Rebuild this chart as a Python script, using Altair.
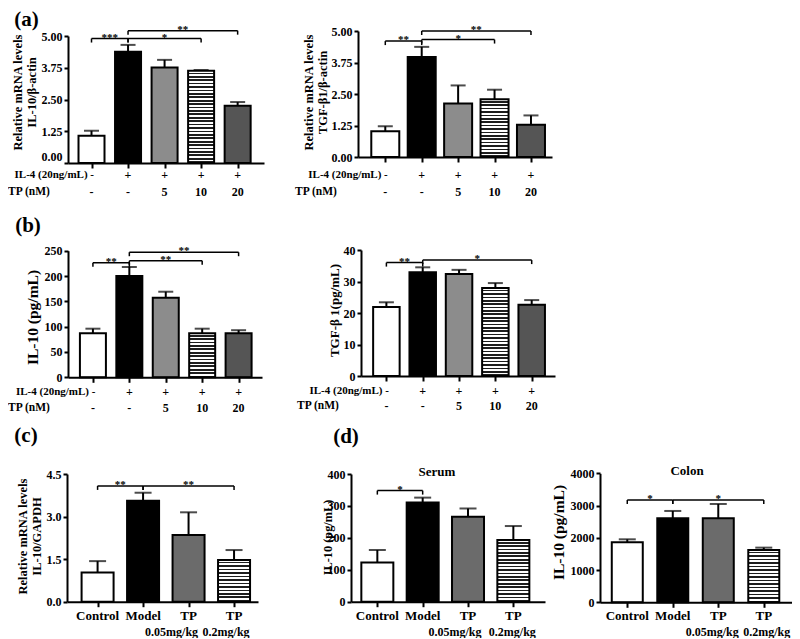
import altair as alt
import pandas as pd

FONT = "Liberation Serif"
W_TOTAL, H_TOTAL = 784, 623

# ---------------- data ----------------
AB_IL4 = ["-", "+", "+", "+", "+"]
AB_TP = ["-", "-", "5", "10", "20"]
AB_HEAD = ["IL-4 (20ng/mL)", "TP (nM)"]
CD_LINE1 = ["Control", "Model", "TP", "TP"]
CD_LINE2 = ["", "", "0.05mg/kg", "0.2mg/kg"]

# (a) left: IL-10/β-actin
A1_VAL = [1.07, 4.38, 3.76, 3.63, 2.25]
A1_ERR = [0.20, 0.27, 0.30, 0.03, 0.15]
A1_BR = ([0, 1, 1], [1, 3, 4], [4.90, 4.90, 5.21], ["***", "*", "**"])
A1_TICKS = [0, 1.25, 2.5, 3.75, 5]

# (a) right: TGF-β1/β-actin
A2_VAL = [1.02, 3.97, 2.12, 2.29, 1.28]
A2_ERR = [0.20, 0.40, 0.72, 0.38, 0.37]
A2_BR = ([0, 1, 1], [1, 3, 4], [4.60, 4.66, 5.00], ["**", "*", "**"])

# (b) left: IL-10 (pg/mL)
B1_VAL = [87, 200, 157, 87, 87]
B1_ERR = [9, 18, 12, 9, 6]
B1_BR = ([0, 1, 1], [1, 3, 4], [226, 230, 247], ["**", "**", "**"])
B1_TICKS = [0, 50, 100, 150, 200, 250]

# (b) right: TGF-β 1 (pg/mL)
B2_VAL = [21.9, 32.9, 32.4, 27.9, 22.6]
B2_ERR = [1.5, 1.6, 1.3, 1.6, 1.5]
B2_BR = ([0, 1], [1, 4], [36.0, 36.8], ["**", "*"])
B2_TICKS = [0, 10, 20, 30, 40]

# (c) IL-10/GAPDH
C_VAL = [1.03, 3.56, 2.35, 1.47]
C_ERR = [0.40, 0.28, 0.80, 0.35]
C_BR = ([0, 1], [1, 3], [4.08, 4.08], ["**", "**"])
C_TICKS = [0, 1.5, 3.0, 4.5]

# (d) Serum
S_VAL = [123, 311, 266, 193]
S_ERR = [39, 15, 26, 44]
S_BR = ([0], [1], [348], ["*"])
S_TICKS = [0, 100, 200, 300, 400]

# (d) Colon
K_VAL = [1860, 2605, 2605, 1623]
K_ERR = [93, 227, 444, 72]
K_BR = ([0, 1], [1, 3], [3173, 3173], ["*", "*"])
K_TICKS = [0, 1000, 2000, 3000, 4000]

# ---------------- layout / style ----------------
GEOM = {
    "A1": dict(x0=60, W=196, step=38.5, first=19.5, bw=26, yb=155, yt=28, tx=-43.5, ty=84, tfs=12.5, cap=15, zb=True),
    "A2": dict(x0=350, W=194, step=38.4, first=23.5, bw=28, yb=149, yt=23, tx=-42.5, ty=84, tfs=12.5, cap=15),
    "B1": dict(x0=60, W=194, step=38.4, first=21, bw=26, yb=369.3, yt=242.7, tx=-28, ty=309, tfs=15.5, cap=15),
    "B2": dict(x0=353, W=194, step=38.3, first=21.5, bw=26.5, yb=368, yt=242, tx=-20, ty=302, tfs=13, cap=15),
    "C": dict(x0=59, W=191, step=48, first=27, bw=32, yb=593.7, yt=466, tx=-37.5, ty=528, tfs=12.5, cap=17),
    "S": dict(x0=343, W=194, step=47.8, first=22.5, bw=32, yb=593.7, yt=466, tx=-17, ty=529, tfs=12.3, cap=17),
    "K": dict(x0=592, W=192, step=48, first=23.5, bw=31, yb=594.3, yt=465.3, tx=-34, ty=524, tfs=15.5, cap=17),
}
AB_FILLS = ["white", "black", "#8c8c8c", "stripes", "#555555"]
CD_FILLS = ["white", "black", "#6b6b6b", "stripes"]
TXT = dict(font=FONT, fontWeight="bold", color="black")


def stripes(val, ymax, g, period=3.4, dark="#1e1e1e"):
    hpx = val / ymax * (g["yb"] - g["yt"])
    n = max(1, round(hpx / period))
    stops = []
    for k in range(n):
        a, m, b = k / n, (k + 0.5) / n, (k + 1) / n
        stops += [alt.GradientStop(offset=a, color="white"), alt.GradientStop(offset=m, color="white"),
                  alt.GradientStop(offset=m, color=dark), alt.GradientStop(offset=b, color=dark)]
    return alt.LinearGradient(gradient="linear", stops=stops, x1=0, x2=0, y1=0, y2=1)


def y_axis(g, ticks, fmt, title):
    extra = {}
    if g.get("zb"):
        extra["labelBaseline"] = {"condition": {"test": "datum.value === 0", "value": "bottom"},
                                  "value": "middle"}
    return alt.Axis(orient="left", offset=-g["x0"], values=ticks, format=fmt, title=title,
                    titleX=g["tx"], titleY=g["ty"], titleFont=FONT, titleFontWeight="bold",
                    titleFontSize=g["tfs"], titleColor="black", titleLineHeight=13.5,
                    titleBaseline="bottom", titleAlign="center", titleAngle=270,
                    labelFont=FONT, labelFontWeight="bold", labelFontSize=12, labelColor="black",
                    labelPadding=2, labelFlush=False, labelOverlap=False,
                    tickSize=4, tickWidth=2, tickColor="black",
                    domainColor="black", domainWidth=2, grid=False, zindex=1, **extra)


def x_axis(g, n):
    return alt.Axis(orient="bottom", offset=g["yb"] - H_TOTAL, values=list(range(n)), labels=False,
                    title=None, tickSize=5, tickWidth=2, tickColor="black",
                    domainColor="black", domainWidth=2, grid=False, zindex=1)


def panel(key, vals, errs, ymax, ticks, fmt, title, fills, br, extra_fn):
    g = GEOM[key]
    n = len(vals)
    xs = alt.Scale(domain=[-g["first"] / g["step"], (g["W"] - g["first"]) / g["step"]],
                   range=[g["x0"], g["x0"] + g["W"]], nice=False, zero=False)
    ys = alt.Scale(domain=[0, ymax], range=[g["yb"], g["yt"]], nice=False, zero=False)
    xa = x_axis(g, n)
    ya = y_axis(g, ticks, fmt, title)
    X = lambda f: alt.X(f, scale=xs, axis=xa)
    Y = lambda f: alt.Y(f, scale=ys, axis=ya)
    df = pd.DataFrame({"i": list(range(n)), "val": vals, "err": errs})
    layers = []
    for i in range(n):
        fill = stripes(vals[i], ymax, g) if fills[i] == "stripes" else fills[i]
        layers.append(
            alt.Chart(df.iloc[[i]]).mark_bar(orient="vertical", width=g["bw"], fill=fill,
                                             stroke="black", strokeWidth=2)
            .encode(x=X("i:Q"), y=Y("val:Q"), y2=alt.datum(0)))
    eb = alt.Chart(df).transform_calculate(top="datum.val + datum.err")
    layers.append(eb.mark_rule(color="black", strokeWidth=2).encode(x=X("i:Q"), y=Y("val:Q"), y2="top:Q"))
    layers.append(eb.mark_tick(orient="horizontal", color="black", size=g["cap"], thickness=2)
                  .encode(x=X("i:Q"), y=Y("top:Q")))
    bdf = pd.DataFrame({"a": br[0], "b": br[1], "y": br[2], "lab": br[3]})
    tick = 4 * ymax / (g["yb"] - g["yt"])
    bb = alt.Chart(bdf).transform_calculate(mid="(datum.a + datum.b) / 2", low=f"datum.y - {tick}")
    layers.append(bb.mark_rule(color="black", strokeWidth=1.5).encode(x=X("a:Q"), x2="b:Q", y=Y("y:Q")))
    layers.append(bb.mark_rule(color="black", strokeWidth=1.5).encode(x=X("a:Q"), y=Y("y:Q"), y2="low:Q"))
    layers.append(bb.mark_rule(color="black", strokeWidth=1.5).encode(x=X("b:Q"), y=Y("y:Q"), y2="low:Q"))
    layers.append(bb.mark_text(fontSize=11, dy=2, baseline="alphabetic", **TXT)
                  .encode(x=X("mid:Q"), y=Y("y:Q"), text="lab:N"))
    layers += extra_fn(X, n)
    return alt.layer(*layers)


def ab_rows(y1, y2, hx):
    def fn(X, n):
        rdf = pd.DataFrame({"i": list(range(n)), "il4": AB_IL4, "tp": AB_TP,
                            "head": [AB_HEAD[0] + " " + AB_IL4[0]] + [""] * (n - 1)})
        base = alt.Chart(rdf)
        rest = alt.Chart(rdf.iloc[1:])
        first = alt.Chart(rdf.iloc[[0]])
        out = [rest.mark_text(fontSize=12, baseline="middle", **TXT).encode(x=X("i:Q"), y=alt.value(y1), text="il4:N"),
               first.mark_text(fontSize=11, baseline="middle", align="right", dx=2.5, **TXT)
               .encode(x=X("i:Q"), y=alt.value(y1), text="head:N"),
               base.mark_text(fontSize=12, baseline="middle", **TXT).encode(x=X("i:Q"), y=alt.value(y2), text="tp:N"),
               alt.Chart(pd.DataFrame({"h": [AB_HEAD[1]]})).mark_text(fontSize=11.5, baseline="middle", align="left", **TXT)
               .encode(x=alt.value(hx), y=alt.value(y2), text="h:N")]
        return out
    return fn


def cd_rows(y1, y2, dxs, sub=None):
    def fn(X, n):
        cdf = pd.DataFrame({"i": list(range(n)), "l1": CD_LINE1, "l2": CD_LINE2})
        out = [alt.Chart(cdf).mark_text(fontSize=13, baseline="middle", **TXT)
               .encode(x=X("i:Q"), y=alt.value(y1), text="l1:N")]
        for i in range(n):
            if CD_LINE2[i]:
                out.append(alt.Chart(cdf.iloc[[i]]).mark_text(fontSize=12, baseline="middle", dx=dxs[i], **TXT)
                           .encode(x=X("i:Q"), y=alt.value(y2), text="l2:N"))
        if sub:
            out.append(alt.Chart(pd.DataFrame({"t": [sub[0]]})).mark_text(fontSize=13, baseline="middle", **TXT)
                       .encode(x=alt.value(sub[1]), y=alt.value(sub[2]), text="t:N"))
        return out
    return fn


pA1 = panel("A1", A1_VAL, A1_ERR, 5, A1_TICKS, ".2f", ["Relative mRNA levels", "IL-10/β-actin"],
            AB_FILLS, A1_BR, ab_rows(167, 183.5, 0))
pA2 = panel("A2", A2_VAL, A2_ERR, 5, A1_TICKS, ".2f", ["Relative mRNA levels", "TGF-β1/β-actin"],
            AB_FILLS, A2_BR, ab_rows(167, 183.5, 287))
pB1 = panel("B1", B1_VAL, B1_ERR, 250, B1_TICKS, "d", "IL-10 (pg/mL)",
            AB_FILLS, B1_BR, ab_rows(384, 400, 0))
pB2 = panel("B2", B2_VAL, B2_ERR, 40, B2_TICKS, "d", "TGF-β 1(pg/mL)",
            AB_FILLS, B2_BR, ab_rows(382.5, 397.5, 289))
pC = panel("C", C_VAL, C_ERR, 4.5, C_TICKS, ".1f", ["Relative mRNA levels", "IL-10/GAPDH"],
           CD_FILLS, C_BR, cd_rows(608, 624, [0, 0, -17, -8]))
pS = panel("S", S_VAL, S_ERR, 400, S_TICKS, "d", "IL-10 (pg/mL)",
           CD_FILLS, S_BR, cd_rows(608, 624, [0, 0, -13, -1], ("Serum", 429, 464)))
pK = panel("K", K_VAL, K_ERR, 4000, K_TICKS, "d", "IL-10 (pg/mL)",
           CD_FILLS, K_BR, cd_rows(608, 624, [0, 0, -6, 3], ("Colon", 679, 463)))

LETTERS = ["(a)", "(b)", "(c)", "(d)"]
LX = [18.5, 20, 18, 338]
LY = [12, 218, 428, 429]
letters = [alt.Chart(pd.DataFrame({"t": [t]})).mark_text(fontSize=21, baseline="middle", **TXT)
           .encode(x=alt.value(x), y=alt.value(y), text="t:N") for t, x, y in zip(LETTERS, LX, LY)]

chart = (alt.layer(pA1, pA2, pB1, pB2, pC, pS, pK, *letters)
         .resolve_scale(x="independent", y="independent")
         .properties(width=W_TOTAL, height=H_TOTAL, padding=0, background="white")
         .configure_view(stroke=None))

chart.save("out.html", embed_options={"renderer": "svg", "actions": False})
